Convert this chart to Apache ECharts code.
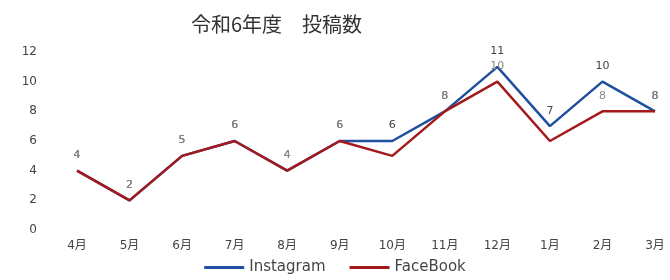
<!DOCTYPE html>
<html>
<head>
<meta charset="utf-8">
<script src="https://cdn.jsdelivr.net/npm/echarts@6/dist/echarts.min.js"></script>
<style>
  html, body { margin: 0; padding: 0; background: #fff; }
  #chart { width: 670px; height: 280px; }
</style>
</head>
<body>
<div id="chart"></div>
<script>
  const months = ["4月", "5月", "6月", "7月", "8月", "9月", "10月", "11月", "12月", "1月", "2月", "3月"]
  const instagram = [4, 2, 5, 6, 4, 6, 6, 8, 11, 7, 10, 8]
  const facebook = [4, 2, 5, 6, 4, 6, 5, 8, 10, 6, 8, 8]
  // FaceBook labels that are not visible in the original (covered by the Instagram line)
  const facebookHiddenLabels = ["10月", "1月"]

  const font = "'Noto Sans CJK JP', 'Noto Sans', sans-serif"
  const wide = "'DejaVu Sans', 'Noto Sans CJK JP', sans-serif"
  const chart = echarts.init(document.getElementById("chart"))

  chart.setOption({
    animation: false,
    backgroundColor: "#fff",
    title: {
      text: "令和6年度　投稿数",
      left: 186,
      top: 9,
      textStyle: { fontFamily: font, fontSize: 20, fontWeight: "normal", color: "#333" },
    },
    grid: { left: 77, right: 15, top: 52, bottom: 50 },
    legend: {
      bottom: 0,
      left: "center",
      itemWidth: 40,
      itemHeight: 3,
      itemGap: 24,
      icon: "rect",
      textStyle: { fontFamily: wide, fontSize: 15, color: "#444" },
      data: ["Instagram", "FaceBook"],
    },
    xAxis: {
      type: "category",
      data: months,
      boundaryGap: false,
      axisLine: { show: false },
      axisTick: { show: false },
      axisLabel: { fontFamily: wide, fontSize: 12, color: "#444", margin: 10 },
    },
    yAxis: {
      type: "value",
      min: 0,
      max: 12,
      interval: 2,
      axisLine: { show: false },
      axisTick: { show: false },
      splitLine: { show: false },
      axisLabel: { fontFamily: wide, fontSize: 12, color: "#444", margin: 40 },
    },
    series: [
      {
        name: "Instagram",
        type: "line",
        data: instagram,
        symbol: "circle",
        symbolSize: 0,
        lineStyle: { color: "#1f4f9e", width: 2.5 },
        itemStyle: { color: "#1f4f9e" },
        label: { show: true, position: "top", distance: 10, fontFamily: wide, fontSize: 11, color: "#444" },
      },
      {
        name: "FaceBook",
        type: "line",
        data: facebook,
        symbol: "circle",
        symbolSize: 0,
        lineStyle: { color: "#a3191c", width: 2.5 },
        itemStyle: { color: "#a3191c" },
        label: {
          show: true,
          position: "top",
          distance: 10,
          fontFamily: wide,
          fontSize: 11,
          color: "#888",
          formatter: (p) => (facebookHiddenLabels.includes(p.name) ? "" : p.value),
        },
      },
    ],
  })
</script>
</body>
</html>
